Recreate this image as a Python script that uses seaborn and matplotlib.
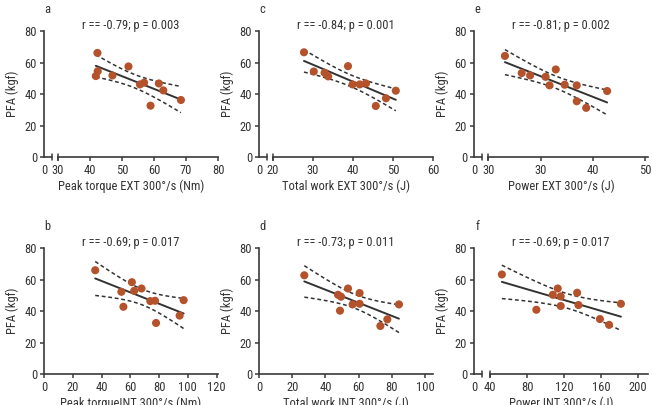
import numpy as np
import pandas as pd
import matplotlib
matplotlib.use("Agg")
import matplotlib.pyplot as plt
import matplotlib.font_manager as fm
from matplotlib.textpath import TextPath
from matplotlib.font_manager import FontProperties
import seaborn as sns

# Data (PFA vs isokinetic variables, n = 11)
peak_ext = [42.3, 41.8, 42.4, 47.0, 52.0, 55.6, 56.9, 61.5, 62.9, 58.9, 68.4]
pfa_peak_ext = [66.1, 51.4, 54.5, 51.8, 57.5, 46.1, 47.2, 46.7, 42.3, 32.6, 36.2]

work_ext = [27.75, 30.2, 32.9, 33.8, 38.75, 39.9, 41.7, 43.25, 45.7, 48.25, 50.7]
pfa_work_ext = [66.5, 54.3, 53.5, 51.2, 57.7, 46.1, 46.1, 46.7, 32.4, 37.3, 42.1]

power_ext = [23.2, 26.4, 28.0, 30.95, 31.7, 32.9, 34.6, 36.9, 36.9, 38.7, 42.7]
pfa_power_ext = [64.2, 53.3, 51.8, 50.9, 45.5, 55.6, 45.9, 45.5, 35.4, 31.2, 41.9]

peak_int = [35.6, 53.8, 55.2, 61.1, 62.7, 67.8, 73.9, 77.2, 77.9, 94.3, 97.1]
pfa_peak_int = [65.9, 52.2, 42.7, 58.3, 52.8, 54.3, 46.3, 46.5, 32.4, 37.1, 46.9]

work_int = [27.3, 47.6, 49.4, 48.8, 53.6, 56.4, 60.6, 60.6, 73.1, 77.3, 84.3]
pfa_work_int = [62.7, 50.3, 49.1, 40.2, 54.3, 44.2, 51.4, 44.6, 30.5, 34.7, 44.2]

power_int = [52.8, 90.1, 107.9, 113.2, 116.4, 116.4, 134.2, 135.6, 158.8, 168.7, 181.5]
pfa_power_int = [63.2, 40.8, 50.3, 54.3, 49.3, 43.2, 51.6, 43.8, 34.9, 31.2, 44.6]

letters = ["a", "c", "e", "b", "d", "f"]
stats_text = ["r == -0.79; p = 0.003", "r == -0.84; p = 0.001", "r == -0.81; p = 0.002",
              "r == -0.69; p = 0.017", "r == -0.73; p = 0.011", "r == -0.69; p = 0.017"]
xlabels = ["Peak torque EXT 300\u00b0/s (Nm)", "Total work EXT 300\u00b0/s (J)",
           "Power EXT 300\u00b0/s (J)", "Peak torqueINT 300\u00b0/s (Nm)",
           "Total work INT 300\u00b0/s (J)", "Power INT 300\u00b0/s (J)"]
xticks = [[30, 40, 50, 60, 70, 80], [20, 30, 40, 50, 60], [20, 30, 40, 50],
          [0, 20, 40, 60, 80, 100, 120], [0, 20, 40, 60, 80, 100], [40, 80, 120, 160, 200]]
xticklabels = [["30", "40", "50", "60", "70", "80"], ["20", "30", "40", "50", "60"],
               ["30", "30", "40", "50"], ["0", "20", "40", "60", "80", "100", "120"],
               ["0", "20", "40", "60", "80", "100"], ["40", "80", "120", "160", "200"]]
yticks = [0, 20, 40, 60, 80]

xs = [peak_ext, work_ext, power_ext, peak_int, work_int, power_int]
ys = [pfa_peak_ext, pfa_work_ext, pfa_power_ext, pfa_peak_int, pfa_work_int, pfa_power_int]

# axis limits; a break value marks a broken x axis ("0 // 30")
xlims = [(25.6, 80), (16.5, 60), (17.3, 50.5), (0, 121), (0, 104.8), (22.7, 210.8)]
breaks = [(28.1, 30), (18.5, 20), (18.8, 20), None, None, (31.3, 40)]

DOT = "#B4532B"
AX_COL = "#3a3a3a"
TXT = "#333333"

sns.set_style("ticks")

# prefer a narrow sans if one is installed (original uses a condensed face)
installed = {f.name for f in fm.fontManager.ttflist}
family, stretch = "Liberation Sans", "normal"
for cand in ["Liberation Sans Narrow", "Roboto Condensed", "Open Sans Condensed",
             "DejaVu Sans Condensed"]:
    if cand in installed:
        family = cand
        break
else:
    if any(f.name == "DejaVu Sans" and f.stretch == "condensed" for f in fm.fontManager.ttflist):
        family, stretch = "DejaVu Sans", "condensed"
plt.rcParams["font.family"] = [family, "DejaVu Sans"]
plt.rcParams["font.stretch"] = stretch

# size so that the stats line is about as wide as in the original (~96 px)
probe = TextPath((0, 0), stats_text[0], size=9,
                 prop=FontProperties(family=family, stretch=stretch))
w_px = probe.get_extents().width / 72 * 100
FS = max(6.5, min(9.5, 9 * 96 / w_px))
plt.rcParams["font.size"] = FS


def conf_band(x, y):
    x = np.asarray(x)
    y = np.asarray(y)
    n = len(x)
    b, a = np.polyfit(x, y, 1)
    resid = y - (a + b * x)
    s = np.sqrt(np.sum(resid ** 2) / (n - 2))
    sxx = np.sum((x - x.mean()) ** 2)
    t = 2.262  # t(0.975, df=9)
    xx = np.linspace(x.min(), x.max(), 100)
    yy = a + b * xx
    half = t * s * np.sqrt(1 / n + (xx - x.mean()) ** 2 / sxx)
    return xx, yy - half, yy + half


fig = plt.figure(figsize=(6.52, 4.05), dpi=100)
lefts = [0.0675, 0.3972, 0.727]
bottoms = [0.6123, 0.0765]

for i in range(6):
    row, col = divmod(i, 3)
    ax = fig.add_axes([lefts[col], bottoms[row], 0.2669, 0.3111])
    df = pd.DataFrame({"x": xs[i], "y": ys[i]})

    xx, lo, hi = conf_band(df["x"], df["y"])
    ax.plot(xx, lo, color=TXT, lw=1.1, ls=(0, (2.5, 1.8)), zorder=2)
    ax.plot(xx, hi, color=TXT, lw=1.1, ls=(0, (2.5, 1.8)), zorder=2)
    sns.regplot(data=df, x="x", y="y", ax=ax, scatter=False, ci=None,
                line_kws={"color": TXT, "lw": 1.4, "zorder": 3})
    sns.scatterplot(data=df, x="x", y="y", ax=ax, color=DOT, s=34,
                    edgecolor="none", zorder=4)

    ax.set_xlim(*xlims[i])
    ax.set_ylim(0, 80)
    ax.set_yticks(yticks)
    sns.despine(ax=ax)
    for sp in ["left", "bottom"]:
        ax.spines[sp].set_color(AX_COL)
        ax.spines[sp].set_linewidth(1.2)
    ax.tick_params(colors=AX_COL, labelcolor=TXT, length=3, width=1.1,
                   labelsize=FS, pad=2)

    br = breaks[i]
    if br is None:
        ax.set_xticks(xticks[i])
        ax.set_xticklabels(xticklabels[i])
    else:
        ax.set_xticks([xlims[i][0]] + xticks[i])
        ax.set_xticklabels(["0"] + xticklabels[i])
        ax.spines["bottom"].set_bounds(br[1], xlims[i][1])
        trans = ax.get_xaxis_transform()
        ax.plot([xlims[i][0], br[0]], [0, 0], transform=trans, color=AX_COL,
                lw=1.2, clip_on=False)
        for bx in br:
            ax.plot([bx, bx], [-0.022, 0.022], transform=trans, color=AX_COL,
                    lw=1.1, clip_on=False)
        ax.xaxis.get_major_ticks()[0].tick1line.set_visible(False)

    ax.set_xlabel(xlabels[i], fontsize=FS, color=TXT, labelpad=2)
    ax.set_ylabel("PFA (kgf)", fontsize=FS, color=TXT, labelpad=4)
    ax.text(0.5, 1.04, stats_text[i], transform=ax.transAxes, ha="center",
            va="center", fontsize=FS, color=TXT)
    ax.text(0.02, 1.167, letters[i], transform=ax.transAxes, ha="center",
            va="center", fontsize=FS, color=TXT)

fig.savefig("out.png", dpi=100)
